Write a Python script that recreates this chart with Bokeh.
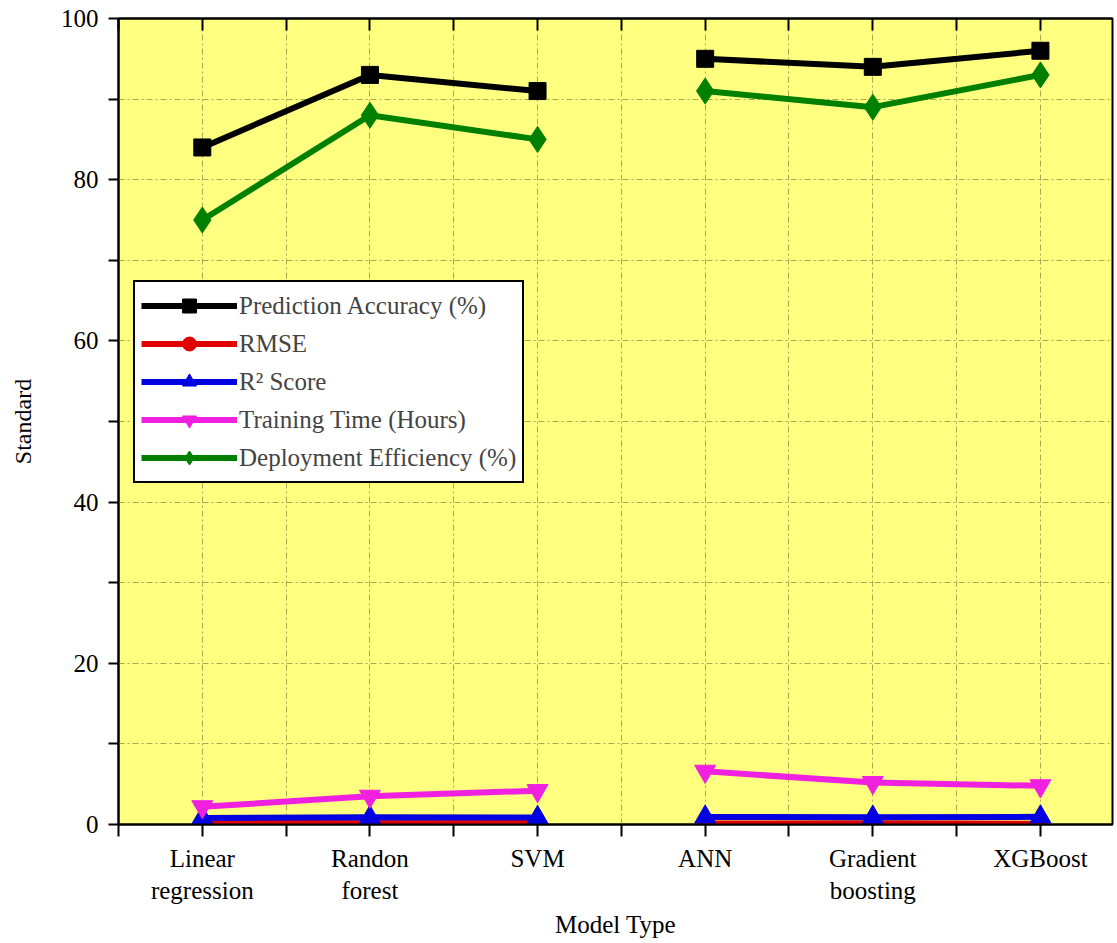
from bokeh.plotting import figure
from bokeh.models import Range1d, FixedTicker, LinearAxis, Legend, LegendItem
from bokeh.embed import file_html
from bokeh.resources import INLINE

# ---------------- data ----------------
models = ["Linear\nregression", "Randon\nforest", "SVM", "ANN", "Gradient\nboosting", "XGBoost"]
positions = [1, 2, 3, 4, 5, 6]
segments = [[0, 1, 2], [3, 4, 5]]  # the lines break between SVM and ANN

prediction_accuracy = [84, 93, 91, 95, 94, 96]
rmse = [0.25, 0.15, 0.18, 0.12, 0.14, 0.10]
r2_score = [0.82, 0.89, 0.87, 0.93, 0.91, 0.95]
training_time = [2.2, 3.5, 4.2, 6.6, 5.2, 4.8]
deployment_efficiency = [75, 88, 85, 91, 89, 93]

series_names = ["Prediction Accuracy (%)", "RMSE", "R\u00b2 Score",
                "Training Time (Hours)", "Deployment Efficiency (%)"]
series_values = [prediction_accuracy, rmse, r2_score, training_time, deployment_efficiency]
y_ticks = [0, 20, 40, 60, 80, 100]
y_minor = [10, 30, 50, 70, 90]

# ---------------- style ----------------
colors = ["#000000", "#E00000", "#0000E0", "#F020E0", "#008000"]
markers = ["square", "circle", "triangle", "inverted_triangle", "diamond"]
msizes = [17, 16, 21, 21, 26]
FONT = "Liberation Serif"

p = figure(width=1117, height=940, output_backend="svg", toolbar_location=None,
           x_range=Range1d(0.5, 6.43), y_range=Range1d(0, 100),
           min_border_left=118, min_border_right=5, min_border_top=18, min_border_bottom=100,
           background_fill_color="#FFFF80", border_fill_color="white")
p.outline_line_color = "black"
p.outline_line_width = 2

xticks = [0.5 + 0.5 * i for i in range(13)]
overrides = {}
for t in xticks:
    overrides[t] = ""
for pos, name in zip(positions, models):
    overrides[pos] = name

p.xaxis.ticker = FixedTicker(ticks=xticks)
p.xaxis.major_label_overrides = overrides
p.xaxis.minor_tick_line_color = None
p.xaxis.major_tick_out = 12
p.xaxis.major_tick_in = 0
p.xaxis.major_tick_line_width = 2
p.xaxis.axis_line_width = 2
p.xaxis.major_label_standoff = 8
p.xaxis.major_label_text_font = FONT
p.xaxis.major_label_text_font_size = "25px"
p.xaxis.major_label_text_color = "black"
p.xaxis.axis_label = "Model Type"
p.xaxis.axis_label_text_font = FONT
p.xaxis.axis_label_text_font_size = "25px"
p.xaxis.axis_label_text_font_style = "normal"
p.xaxis.axis_label_text_color = "black"
p.xaxis.axis_label_standoff = 4

p.yaxis.ticker = FixedTicker(ticks=y_ticks, minor_ticks=y_minor)
p.yaxis.major_tick_out = 10
p.yaxis.major_tick_in = 0
p.yaxis.minor_tick_out = 10
p.yaxis.minor_tick_in = 0
p.yaxis.major_tick_line_width = 2
p.yaxis.minor_tick_line_width = 2
p.yaxis.minor_tick_line_color = "black"
p.yaxis.axis_line_width = 2
p.yaxis.major_label_standoff = 10
p.yaxis.major_label_text_font = FONT
p.yaxis.major_label_text_font_size = "25px"
p.yaxis.major_label_text_color = "black"
p.yaxis.axis_label = "Standard"
p.yaxis.axis_label_text_font = FONT
p.yaxis.axis_label_text_font_size = "24px"
p.yaxis.axis_label_text_font_style = "normal"
p.yaxis.axis_label_text_color = "black"
p.yaxis.axis_label_standoff = 22

top = LinearAxis(ticker=FixedTicker(ticks=xticks), major_tick_in=12, major_tick_out=0,
                 major_tick_line_width=2, major_tick_line_color="black",
                 minor_tick_line_color=None,
                 major_label_text_font_size="1px", major_label_text_color=None,
                 axis_line_width=2)
p.add_layout(top, "above")

grid_color = "#A8A850"
p.xgrid.grid_line_color = grid_color
p.xgrid.grid_line_dash = "6 3 2 3"
p.xgrid.grid_line_width = 1
p.ygrid.grid_line_color = grid_color
p.ygrid.grid_line_dash = "6 3 2 3"
p.ygrid.grid_line_width = 1
p.ygrid.minor_grid_line_color = grid_color
p.ygrid.minor_grid_line_dash = "6 3 2 3"
p.ygrid.minor_grid_line_width = 1

items = []
for name, vals, c, m, s in zip(series_names, series_values, colors, markers, msizes):
    rends = []
    for seg in segments:
        xs = [positions[i] for i in seg]
        ys = [vals[i] for i in seg]
        rends.append(p.line(xs, ys, line_color=c, line_width=6))
    sc = p.scatter(positions, vals, marker=m, size=s, fill_color=c, line_color=c)
    items.append(LegendItem(label=name, renderers=[rends[0], sc]))

legend = Legend(items=items, location=(15, 341), orientation="vertical",
                glyph_width=96, glyph_height=35, label_height=35, spacing=3,
                padding=6, margin=0, label_standoff=2,
                label_text_font=FONT, label_text_font_size="25px",
                border_line_color="black", border_line_width=2, border_line_alpha=1,
                background_fill_color="white", background_fill_alpha=1)
p.add_layout(legend, "center")

open("out.html", "w").write(file_html(p, INLINE))
